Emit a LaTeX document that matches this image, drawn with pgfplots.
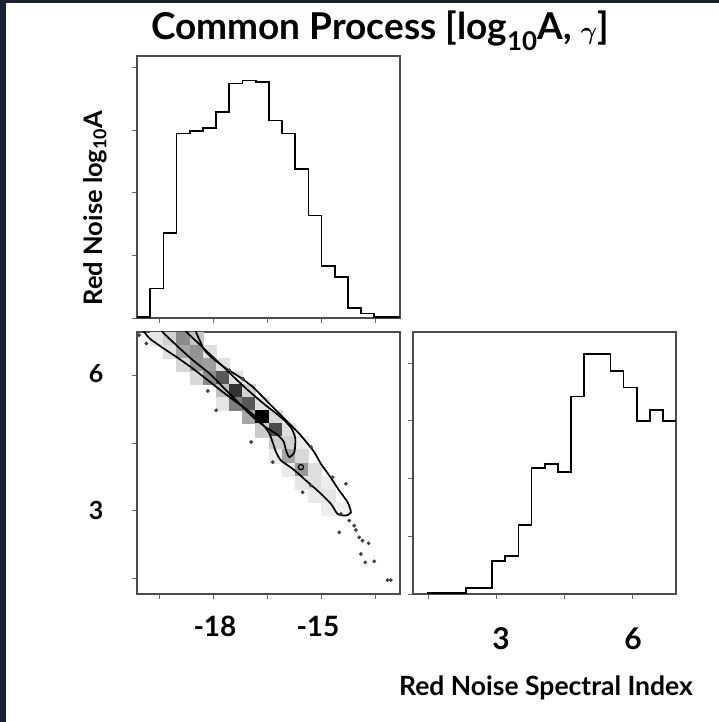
\documentclass[border=0pt]{standalone}
\usepackage{pgfplots}
\pgfplotsset{compat=1.18}
\usepackage{amsmath}
\usepackage{fontspec}
\setmainfont{Lato}
\definecolor{darkbg}{HTML}{1B2130}
\pgfplotsset{cornerax/.style={scale only axis, width=263pt, height=262pt, anchor=south west,
  axis line style={line width=1.1pt, black!70}, tick align=outside, major tick length=5pt,
  tick style={line width=0.9pt, black!60}, xtick pos=left, ytick pos=left,
  xticklabel=\empty, yticklabel=\empty}}
\begin{document}
\begin{tikzpicture}
\useasboundingbox (0pt,0pt) rectangle (719pt,722pt);
\fill[white] (0pt,0pt) rectangle (719pt,722pt);
\fill[darkbg] (0pt,719pt) rectangle (719pt,722pt);
\fill[darkbg] (0pt,0pt) rectangle (6pt,722pt);

% top histogram: log10 A
\begin{axis}[cornerax, at={(137pt,404pt)}, xmin=-20.13, xmax=-12.83, ymin=0, ymax=4.19,
  xtick={-19.5,-18,-16.5,-15,-13.5}, ytick={0,1,2,3,4}]
\addplot[const plot, line width=1.7pt, black] coordinates {
(-20.130,0.02) (-19.764,0.47) (-19.398,1.36) (-19.032,2.95) (-18.666,2.99)
(-18.300,3.04) (-17.934,3.29) (-17.568,3.75) (-17.202,3.80) (-16.836,3.77)
(-16.470,3.16) (-16.104,2.95) (-15.738,2.38) (-15.372,1.64) (-15.006,0.83)
(-14.640,0.65) (-14.274,0.16) (-13.908,0.07) (-13.542,0.02) (-13.176,0.02)
(-12.810,0.02)};
\end{axis}

% 2D panel
\begin{axis}[cornerax, at={(137pt,128pt)}, xmin=-20.13, xmax=-12.83, ymin=1.15, ymax=6.97,
  xtick={-19.5,-18,-16.5,-15,-13.5}, ytick={1.5,3,4.5,6}, clip marker paths=true,
  colormap={wb}{color=(white) color=(black)}, point meta min=0, point meta max=1]
\addplot[scatter, only marks, mark=square*, mark size=6.6pt, point meta=explicit,
  scatter/use mapped color={draw=mapped color, fill=mapped color}] table[meta=c] {
x y c
-19.581 6.825 0.10
-19.215 6.825 0.18
-18.849 6.825 0.45
-18.483 6.825 0.22
-19.215 6.534 0.12
-18.849 6.534 0.35
-18.483 6.534 0.42
-18.117 6.534 0.12
-18.849 6.243 0.15
-18.483 6.243 0.40
-18.117 6.243 0.38
-17.751 6.243 0.12
-18.483 5.953 0.15
-18.117 5.953 0.45
-17.751 5.953 0.65
-17.385 5.953 0.12
-17.751 5.662 0.25
-17.385 5.662 0.80
-17.019 5.662 0.18
-17.751 5.372 0.10
-17.385 5.372 0.50
-17.019 5.372 0.65
-16.653 5.372 0.12
-17.019 5.081 0.35
-16.653 5.081 1.00
-16.287 5.081 0.15
-16.653 4.790 0.20
-16.287 4.790 0.70
-15.921 4.790 0.12
-16.287 4.500 0.20
-15.921 4.500 0.18
-15.555 4.500 0.08
-16.287 4.209 0.08
-15.921 4.209 0.35
-15.555 4.209 0.15
-15.921 3.919 0.08
-15.555 3.919 0.40
-15.189 3.919 0.13
-15.555 3.628 0.10
-15.189 3.628 0.13
-14.823 3.628 0.07
-15.189 3.337 0.08
-14.823 3.337 0.10
-14.823 3.047 0.07
-14.457 3.047 0.06
};
% outer contour
\addplot[smooth, tension=0.4, line width=1.7pt, black] coordinates {
(-19.97,7.05) (-19.918,6.96) (-19.779,6.826) (-19.456,6.640) (-19.040,6.418)
(-18.579,6.158) (-18.163,5.898) (-17.748,5.637) (-17.378,5.415) (-17.055,5.230)
(-16.732,5.007) (-16.455,4.711) (-16.270,4.302) (-16.132,4.115) (-15.809,3.931)
(-15.439,3.671) (-15.070,3.411) (-14.747,3.152) (-14.562,2.929) (-14.331,2.892)
(-14.193,2.966) (-14.285,3.189) (-14.516,3.448) (-14.793,3.783) (-15.024,4.042)
(-15.209,4.302) (-15.393,4.488) (-15.624,4.711) (-15.809,4.859) (-16.178,5.156)
(-16.547,5.453) (-16.917,5.750) (-17.286,5.973) (-17.655,6.158) (-18.025,6.381)
(-18.255,6.567) (-18.394,6.789) (-18.486,6.96) (-18.53,7.05)};
% inner contour
\addplot[smooth, tension=0.4, line width=1.7pt, black] coordinates {
(-19.47,7.05) (-19.410,6.960) (-19.040,6.678) (-18.579,6.344) (-18.117,6.047)
(-17.702,5.713) (-17.332,5.416) (-16.963,5.119) (-16.594,4.874) (-16.270,4.711)
(-16.067,4.547) (-15.993,4.339) (-15.901,4.191) (-15.762,4.302) (-15.735,4.599)
(-15.836,4.822) (-16.039,5.007) (-16.317,5.193) (-16.594,5.364) (-16.963,5.616)
(-17.332,5.884) (-17.702,6.173) (-18.071,6.448) (-18.440,6.730) (-18.745,6.960)
(-18.80,7.05)};
% small island contour
\addplot[only marks, mark=o, mark size=2.6pt, line width=1.2pt, black] coordinates {(-15.578,3.968)};
% outlying samples
\addplot[only marks, mark=*, mark size=1.7pt, black!75] coordinates {
(-20.075,6.901) (-19.871,6.715) (-18.163,5.661) (-17.932,5.230) (-16.963,4.525)
(-16.363,4.079) (-15.301,4.414) (-15.532,3.411) (-15.301,3.560) (-14.701,3.745)
(-14.331,3.597) (-14.470,2.929) (-14.238,2.780) (-14.101,2.669) (-14.516,2.520)
(-14.054,2.572) (-13.962,2.409) (-13.870,2.335) (-13.703,2.276) (-13.916,2.038)
(-13.796,1.852) (-13.547,1.875) (-13.177,1.459) (-13.084,1.459) (-17.194,5.935)
(-17.563,6.121)};
\end{axis}

% right histogram: spectral index
\begin{axis}[cornerax, at={(413pt,128pt)}, xmin=1.15, xmax=6.97, ymin=0, ymax=4.54,
  xtick={1.5,3,4.5,6}, ytick={0,1,2,3,4}]
\addplot[const plot, line width=1.7pt, black] coordinates {
(1.449,0.02) (1.740,0.02) (2.030,0.02) (2.321,0.10) (2.611,0.10)
(2.902,0.57) (3.193,0.66) (3.483,1.20) (3.774,2.18) (4.064,2.25)
(4.355,2.12) (4.646,3.42) (4.936,4.16) (5.227,4.16) (5.517,3.86)
(5.808,3.58) (6.099,3.00) (6.389,3.19) (6.680,3.00) (6.970,3.00)};
\end{axis}

\node[font=\bfseries\fontsize{37}{42}\selectfont, anchor=base] at (380pt,682pt) {Common Process [log\textsubscript{10}A, $\boldsymbol{\gamma}$]};
\node[font=\bfseries\fontsize{25.5}{30}\selectfont, rotate=90, anchor=base] at (102pt,514pt) {Red Noise log\textsubscript{10}A};
\node[font=\bfseries\fontsize{26.5}{30}\selectfont, anchor=base] at (546pt,27pt) {Red Noise Spectral Index};
\node[font=\bfseries\fontsize{28}{32}\selectfont, anchor=base] at (215pt,85pt) {-18};
\node[font=\bfseries\fontsize{28}{32}\selectfont, anchor=base] at (318pt,85pt) {-15};
\node[font=\bfseries\fontsize{30}{34}\selectfont, anchor=base] at (501pt,72pt) {3};
\node[font=\bfseries\fontsize{30}{34}\selectfont, anchor=base] at (633pt,72pt) {6};
\node[font=\bfseries\fontsize{25}{30}\selectfont, anchor=base] at (96pt,339pt) {6};
\node[font=\bfseries\fontsize{25}{30}\selectfont, anchor=base] at (96pt,202pt) {3};
\end{tikzpicture}
\end{document}
